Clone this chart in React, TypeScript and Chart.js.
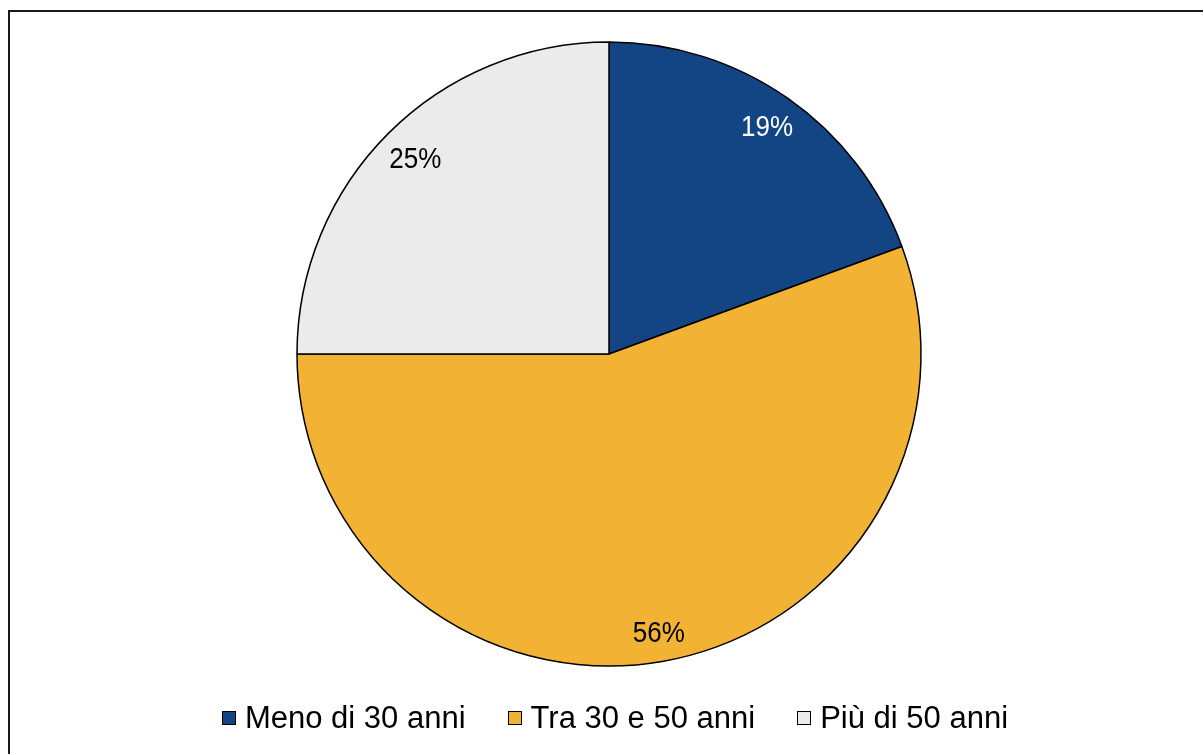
import React, { useEffect, useRef } from "react";
import { Chart, registerables } from "chart.js";

Chart.register(...registerables);

const categories = ["Meno di 30 anni", "Tra 30 e 50 anni", "Più di 50 anni"];
const values = [19.4, 55.6, 25.0];
const pctLabels = ["19%", "56%", "25%"];
const sliceColors = ["#134585", "#F2B335", "#EBEBEB"];
const labelColors = ["#FFFFFF", "#000000", "#000000"];

const FONT = "'Liberation Sans', Arial, Helvetica, sans-serif";

// "inside end" label placement: the far corner of the label box sits a fixed inset inside the rim
const pieLabelPlugin = {
  id: "pieLabels",
  afterDatasetsDraw(chart: any) {
    const ctx = chart.ctx;
    const meta = chart.getDatasetMeta(0);
    const vScale = 1.12;
    const inset = 12;
    ctx.save();
    ctx.font = `26px ${FONT}`;
    ctx.textAlign = "center";
    ctx.textBaseline = "middle";
    meta.data.forEach((arc: any, i: number) => {
      const { x, y, startAngle, endAngle, outerRadius } = arc.getProps(
        ["x", "y", "startAngle", "endAngle", "outerRadius"],
        true
      );
      const mid = (startAngle + endAngle) / 2;
      const dx = Math.cos(mid);
      const dy = Math.sin(mid);
      const hw = ctx.measureText(pctLabels[i]).width / 2;
      const hh = 10.5;
      const proj = Math.abs(dx) * hw + Math.abs(dy) * hh;
      const target = outerRadius - inset;
      const c = hw * hw + hh * hh - target * target;
      const r = (-2 * proj + Math.sqrt(4 * proj * proj - 4 * c)) / 2;
      ctx.save();
      ctx.translate(x + dx * r, y + dy * r);
      ctx.scale(1, vScale);
      ctx.fillStyle = labelColors[i];
      ctx.fillText(pctLabels[i], 0, 0);
      ctx.restore();
    });
    ctx.restore();
  },
};

export default function App() {
  const ref = useRef<HTMLCanvasElement | null>(null);

  useEffect(() => {
    if (!ref.current) return;
    const chart = new Chart(ref.current, {
      type: "pie",
      data: {
        labels: categories,
        datasets: [
          {
            data: values,
            backgroundColor: sliceColors,
            borderColor: "#000000",
            borderWidth: 1.5,
          },
        ],
      },
      options: {
        responsive: false,
        animation: false,
        radius: 312,
        layout: { padding: { left: 297, right: 282, top: 42, bottom: 88 } },
        plugins: {
          legend: { display: false },
          tooltip: { enabled: false },
          title: { display: false },
        },
      } as any,
      plugins: [pieLabelPlugin],
    });
    return () => chart.destroy();
  }, []);

  return (
    <div
      style={{
        position: "fixed",
        left: 0,
        top: 0,
        width: 1203,
        height: 754,
        overflow: "hidden",
        background: "#ffffff",
        fontFamily: FONT,
      }}
    >
      <div
        style={{
          position: "absolute",
          left: 8,
          top: 10,
          width: 1220,
          height: 770,
          border: "2px solid #1a1a1a",
          boxSizing: "border-box",
        }}
      />
      <canvas
        ref={ref}
        width={1203}
        height={754}
        style={{ position: "absolute", left: 0, top: 0, width: 1203, height: 754 }}
      />
      <div
        style={{
          position: "absolute",
          left: 0,
          width: 1230,
          top: 700,
          height: 36,
          display: "flex",
          justifyContent: "center",
          alignItems: "center",
          gap: 42,
          fontSize: 31,
          color: "#000",
          whiteSpace: "nowrap",
        }}
      >
        {categories.map((c, i) => (
          <div key={c} style={{ display: "flex", alignItems: "center" }}>
            <span
              style={{
                display: "inline-block",
                width: 14,
                height: 14,
                background: sliceColors[i],
                border: "1px solid #000",
                boxSizing: "border-box",
                marginRight: 9,
              }}
            />
            <span>{c}</span>
          </div>
        ))}
      </div>
    </div>
  );
}
